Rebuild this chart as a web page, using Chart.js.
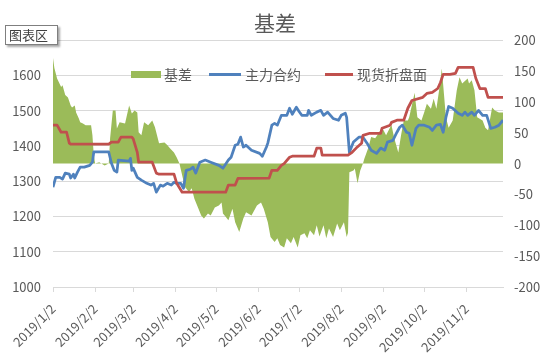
<!DOCTYPE html>
<html>
<head>
<meta charset="utf-8">
<title>基差</title>
<script src="https://cdn.jsdelivr.net/npm/chart.js@4/dist/chart.umd.min.js"></script>
<style>
  body { margin: 0; background: #fff; }
  #wrap { position: relative; width: 550px; height: 354px; font-family: "Noto Sans CJK SC", sans-serif; }
  .key { position: absolute; }
  .lbl { position: absolute; top: 65px; font-size: 14px; line-height: 18px; color: #595959; white-space: nowrap; }
  #tip { position: absolute; left: 5px; top: 25px; width: 48px; height: 18px; border: 1px solid #7f7f7f; background: #fff;
         box-shadow: 2px 2px 2px rgba(0,0,0,0.35); font-size: 13px; line-height: 18px; color: #404040; padding-left: 3px; }
</style>
</head>
<body>
<div id="wrap">
  <canvas id="chart" width="550" height="354"></canvas>
  <div class="key" style="left:131px;top:71px;width:30px;height:7px;background:#9BBB59"></div>
  <div class="lbl" style="left:164px">基差</div>
  <div class="key" style="left:209px;top:73px;width:32px;height:3px;background:#4F81BD"></div>
  <div class="lbl" style="left:245px">主力合约</div>
  <div class="key" style="left:325px;top:73px;width:28px;height:3px;background:#C0504D"></div>
  <div class="lbl" style="left:357px">现货折盘面</div>
  <div id="tip">图表区</div>
</div>
<script>
'use strict';

// x axis ticks (Excel date axis, one per month)
var tickDates = ['1/2', '2/2', '3/2', '4/2', '5/2', '6/2', '7/2', '8/2', '9/2', '10/2', '11/2'];
var tickLabels = ['2019/1/2', '2019/2/2', '2019/3/2', '2019/4/2', '2019/5/2', '2019/6/2',
  '2019/7/2', '2019/8/2', '2019/9/2', '2019/10/2', '2019/11/2'];

// 基差 (right axis)
var basisDates = ['1/2', '1/3', '1/5', '1/8', '1/9', '1/11', '1/13', '1/15', '1/16', '1/18', '1/19', '1/21',
  '1/22', '1/24', '1/26', '1/30', '1/31', '2/1', '2/2', '2/5', '2/9', '2/12', '2/13', '2/15', '2/17', '2/18',
  '2/20', '2/24', '2/27', '3/1', '3/3', '3/5', '3/6', '3/8', '3/10', '3/13', '3/16', '3/18', '3/21', '3/25',
  '3/27', '3/29', '4/1', '4/3', '4/5', '4/7', '4/9', '4/12', '4/14', '4/16', '4/19', '4/21', '4/23', '4/26',
  '4/28', '5/1', '5/4', '5/6', '5/7', '5/9', '5/11', '5/14', '5/16', '5/19', '5/22', '5/24', '5/28', '6/1',
  '6/4', '6/6', '6/9', '6/11', '6/14', '6/16', '6/18', '6/21', '6/23', '6/26', '6/28', '7/1', '7/3', '7/6',
  '7/8', '7/10', '7/13', '7/15', '7/17', '7/20', '7/22', '7/24', '7/27', '7/30', '8/1', '8/4', '8/6', '8/7',
  '8/8', '8/11', '8/12', '8/14', '8/16', '8/18', '8/19', '8/22', '8/24', '8/27', '8/30', '9/1', '9/4', '9/7',
  '9/8', '9/10', '9/13', '9/15', '9/17', '9/20', '9/21', '9/25', '9/27', '9/30', '10/2', '10/4', '10/7',
  '10/9', '10/11', '10/13', '10/15', '10/18', '10/20', '10/23', '10/26', '10/28', '10/30', '11/3', '11/4',
  '11/6', '11/8', '11/10', '11/14', '11/16', '11/18', '11/21', '11/23', '11/26', '11/29'];
var basisValues = [171, 155, 138, 124, 127, 111, 107, 94, 91, 94, 83, 73,
  67, 65, 62, 62, 46, 13, 0, 2, -3, 0, 41, 86, 86, 57,
  67, 65, 94, 81, 86, 83, 51, 46, 67, 62, 70, 59, 33, 34,
  30, 25, 18, 10, 0, -19, -38, -46, -40, -57, -73, -84, -89, -81,
  -84, -71, -68, -63, -81, -86, -92, -73, -95, -111, -89, -79, -84, -68,
  -63, -73, -95, -119, -127, -121, -132, -136, -121, -129, -119, -136, -116, -113,
  -121, -108, -116, -100, -118, -100, -121, -105, -119, -97, -108, -95, -119, -112,
  -14, -11, -8, -32, -11, 0, 8, 26, 43, 41, 51, 59, 46, 59,
  62, 41, 18, 46, 70, 70, 75, 115, 75, 70, 83, 97, 89,
  105, 89, 119, 154, 75, 58, 70, 119, 140, 130, 138, 130,
  135, 119, 75, 70, 58, 54, 91, 86, 83, 83];

// 主力合约 (left axis)
var futuresDates = ['1/2', '1/4', '1/7', '1/9', '1/11', '1/14', '1/15', '1/17', '1/18', '1/20', '1/22', '1/25',
  '1/29', '1/31', '2/1', '2/12', '2/14', '2/16', '2/18', '2/19', '2/27', '2/28', '3/1', '3/2', '3/5', '3/8',
  '3/12', '3/15', '3/17', '3/19', '3/22', '3/24', '3/27', '3/30', '4/1', '4/3', '4/6', '4/8', '4/10', '4/13',
  '4/15', '4/17', '4/20', '4/24', '4/28', '5/4', '5/7', '5/11', '5/13', '5/16', '5/18', '5/20', '5/22', '5/24',
  '5/28', '6/3', '6/5', '6/8', '6/9', '6/12', '6/14', '6/16', '6/19', '6/23', '6/25', '6/27', '6/30', '7/2',
  '7/4', '7/8', '7/9', '7/11', '7/15', '7/18', '7/20', '7/23', '7/27', '7/31', '8/2', '8/5', '8/6', '8/8',
  '8/11', '8/15', '8/18', '8/21', '8/24', '8/28', '8/31', '9/3', '9/5', '9/9', '9/12', '9/14', '9/16', '9/19',
  '9/21', '9/23', '9/26', '9/28', '10/2', '10/6', '10/8', '10/11', '10/14', '10/16', '10/18', '10/20', '10/23',
  '10/27', '10/30', '11/1', '11/3', '11/6', '11/8', '11/11', '11/14', '11/17', '11/20', '11/23', '11/26', '11/29'];
var futuresValues = [1283, 1311, 1311, 1306, 1323, 1320, 1309, 1320, 1309, 1326, 1340, 1340,
  1345, 1354, 1383, 1383, 1351, 1331, 1326, 1360, 1357, 1365, 1331, 1337, 1311, 1303,
  1294, 1289, 1294, 1269, 1289, 1286, 1294, 1289, 1297, 1294, 1294, 1280, 1331, 1334,
  1340, 1323, 1354, 1360, 1354, 1345, 1337, 1360, 1368, 1402, 1405, 1425, 1397, 1402,
  1388, 1379, 1371, 1397, 1408, 1459, 1464, 1459, 1487, 1487, 1507, 1490, 1510, 1498,
  1487, 1487, 1501, 1487, 1496, 1501, 1487, 1496, 1478, 1473, 1487, 1493, 1481, 1382,
  1411, 1425, 1425, 1408, 1388, 1379, 1394, 1388, 1411, 1416, 1439, 1453, 1459, 1439,
  1436, 1402, 1450, 1459, 1459, 1453, 1444, 1459, 1461, 1439, 1481, 1512, 1507,
  1493, 1487, 1496, 1487, 1496, 1487, 1501, 1487, 1487, 1450, 1453, 1459, 1473];

// 现货折盘面 (left axis, moves in steps)
var spotDates = ['1/2', '1/5', '1/8', '1/12', '1/14', '1/15', '2/12', '2/14', '2/19', '2/21', '3/1', '3/2',
  '3/5', '3/6', '3/16', '3/19', '3/21', '4/1', '4/3', '4/7', '5/9', '5/11', '5/16', '5/18', '6/10', '6/12',
  '6/16', '6/19', '6/21', '6/25', '6/27', '7/13', '7/14', '7/15', '7/18', '7/19', '8/7', '8/10', '8/13',
  '8/17', '8/18', '8/23', '8/31', '9/1', '9/7', '9/8', '9/12', '9/17', '9/20', '9/23', '10/1', '10/4',
  '10/8', '10/12', '10/14', '10/16', '10/21', '10/25', '10/27', '11/7', '11/9', '11/12', '11/16', '11/18', '11/29'];
var spotValues = [1459, 1459, 1439, 1439, 1408, 1405, 1405, 1411, 1411, 1425, 1425, 1420,
  1382, 1354, 1354, 1323, 1320, 1320, 1294, 1269, 1269, 1289, 1289, 1308, 1309, 1331,
  1331, 1345, 1350, 1368, 1371, 1371, 1382, 1394, 1394, 1374, 1374, 1382, 1394,
  1408, 1430, 1436, 1436, 1450, 1459, 1467, 1473, 1473, 1507, 1529, 1538, 1549,
  1552, 1563, 1580, 1603, 1603, 1606, 1623, 1623, 1592, 1563, 1563, 1538, 1538];

// days counted from 2019/1/2, so the x axis keeps calendar spacing like Excel's date axis
function dayOf(md) {
  var p = md.split('/');
  return Math.round((Date.UTC(2019, +p[0] - 1, +p[1]) - Date.UTC(2019, 0, 2)) / 86400000);
}

function points(dates, values) {
  var out = [];
  for (var i = 0; i < dates.length; i++) {
    out.push({ x: dayOf(dates[i]), y: values[i] });
  }
  return out;
}

// plain numbers, no thousands separator
function plain(value) {
  return String(value);
}

var tickDays = tickDates.map(dayOf);
var fontFamily = '"Noto Sans CJK SC", sans-serif';
var grey = '#595959';
var gridColor = '#D9D9D9';

var ctx = document.getElementById('chart').getContext('2d');
new Chart(ctx, {
  type: 'line',
  data: {
    datasets: [{
      label: '基差',
      data: points(basisDates, basisValues),
      yAxisID: 'y1',
      backgroundColor: '#9BBB59',
      borderWidth: 0,
      fill: 'origin',
      pointRadius: 0,
      order: 3
    }, {
      label: '主力合约',
      data: points(futuresDates, futuresValues),
      yAxisID: 'y',
      borderColor: '#4F81BD',
      borderWidth: 2.75,
      borderJoinStyle: 'round',
      fill: false,
      pointRadius: 0,
      order: 2
    }, {
      label: '现货折盘面',
      data: points(spotDates, spotValues),
      yAxisID: 'y',
      borderColor: '#C0504D',
      borderWidth: 2.75,
      borderJoinStyle: 'round',
      fill: false,
      pointRadius: 0,
      order: 1
    }]
  },
  options: {
    responsive: false,
    animation: false,
    devicePixelRatio: 1,
    layout: { padding: 0 },
    plugins: {
      legend: { display: false },
      tooltip: { enabled: false },
      title: {
        display: true,
        text: '基差',
        color: grey,
        font: { family: fontFamily, size: 21, weight: 'normal' },
        padding: { top: 10, bottom: 5 }
      }
    },
    scales: {
      x: {
        type: 'linear',
        min: 0,
        max: dayOf('11/29'),
        afterBuildTicks: function(scale) {
          scale.ticks = tickDays.map(function(d) { return { value: d }; });
        },
        afterFit: function(scale) { scale.height = 67; },
        ticks: {
          autoSkip: false,
          minRotation: 45,
          maxRotation: 45,
          padding: 9,
          color: grey,
          font: { family: fontFamily, size: 13 },
          callback: function(value) { return tickLabels[tickDays.indexOf(value)]; }
        },
        grid: { drawOnChartArea: false, drawTicks: true, tickLength: 5, color: gridColor },
        border: { display: true, color: gridColor }
      },
      y: {
        position: 'left',
        min: 1000,
        max: 1700,
        afterFit: function(scale) { scale.width = 53; },
        ticks: { stepSize: 100, padding: 12, color: grey, font: { family: fontFamily, size: 13 }, callback: plain },
        grid: { color: gridColor, drawTicks: false },
        border: { display: false }
      },
      y1: {
        position: 'right',
        min: -200,
        max: 200,
        afterFit: function(scale) { scale.width = 47; },
        ticks: { stepSize: 50, padding: 11, color: grey, font: { family: fontFamily, size: 13 }, callback: plain },
        grid: { drawOnChartArea: false, drawTicks: false },
        border: { display: false }
      }
    }
  }
});
</script>
</body>
</html>
